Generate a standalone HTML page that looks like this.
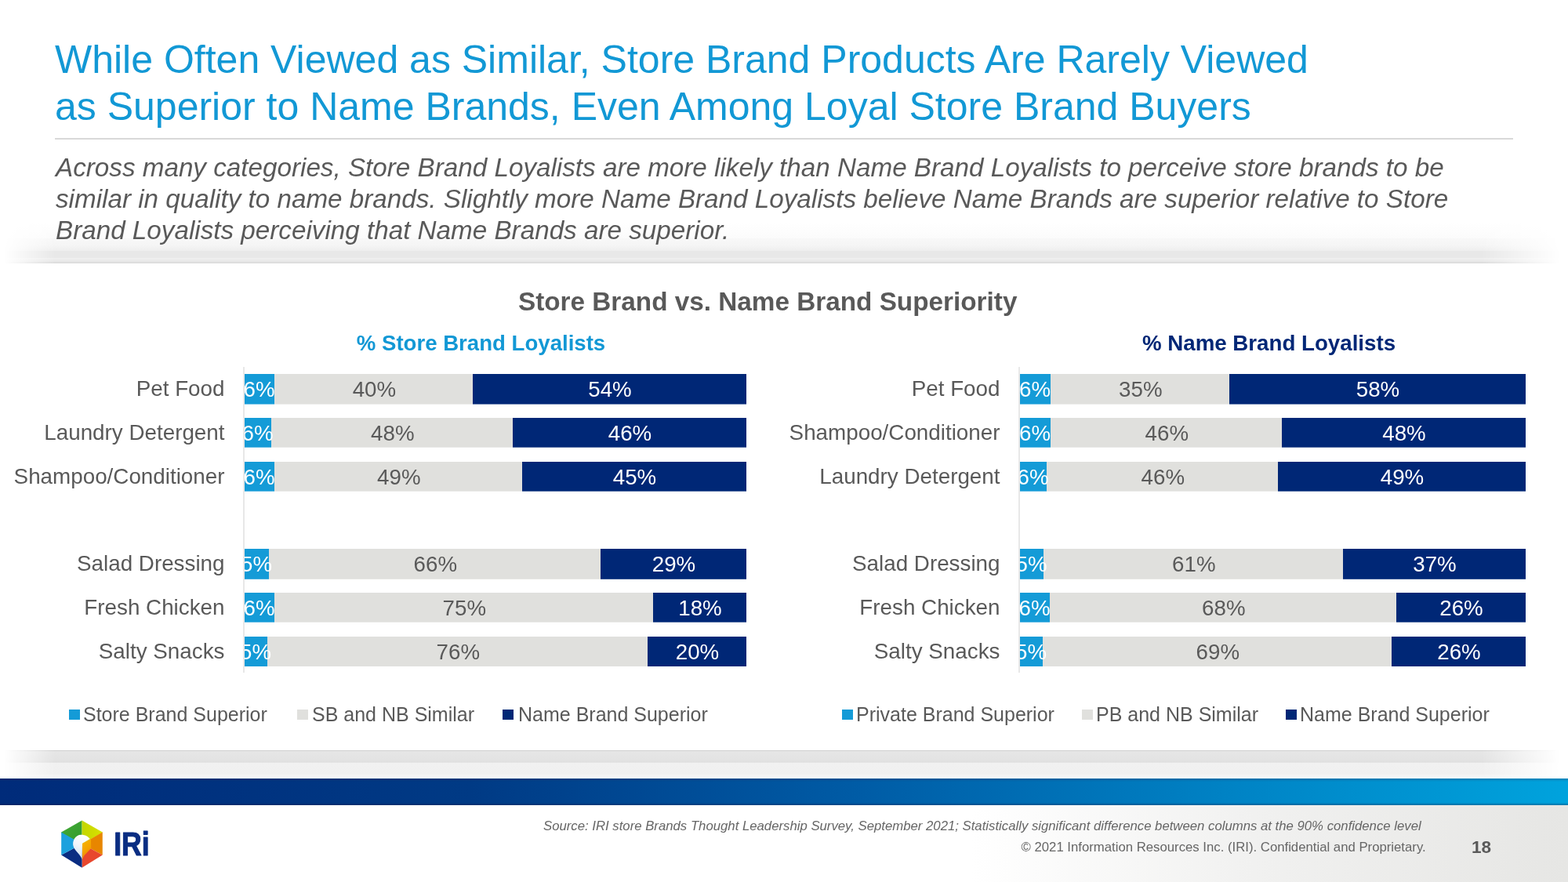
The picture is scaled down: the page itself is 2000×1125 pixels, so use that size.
<!DOCTYPE html>
<html lang="en">
<head>
<meta charset="utf-8">
<title>Store Brand vs. Name Brand Superiority</title>
<style>
html,body{margin:0;padding:0;background:#fff;}
body{width:2000px;height:1125px;position:relative;overflow:hidden;font-family:"Liberation Sans",Arial,Helvetica,sans-serif;color:#595959;}
.t{position:absolute;white-space:nowrap;margin:0;padding:0;}
.b{font-weight:bold;}
.i{font-style:italic;}
.abs{position:absolute;}
.seg{position:absolute;top:0;height:100%;}
.bar{position:absolute;height:39px;overflow:hidden;}
.lab{position:absolute;top:1px;height:38px;line-height:38px;font-size:27.7px;text-align:center;white-space:nowrap;}
.w{color:#fff;}
</style>
</head>
<body>
<div class="abs" style="left:0;top:1027px;width:2000px;height:98px;background:linear-gradient(90deg,#ffffff 0%,#ffffff 62%,#f1f1f0 80%,#e6e6e4 100%);"></div>
<div class="abs" style="left:0;top:284px;width:2000px;height:52px;-webkit-mask-image:linear-gradient(90deg,transparent 0.25%,#000 3.5%,#000 94.5%,transparent 99.5%);mask-image:linear-gradient(90deg,transparent 0.25%,#000 3.5%,#000 94.5%,transparent 99.5%);">
<div class="abs" style="left:0;top:0;width:100%;height:20px;background:linear-gradient(180deg,#ffffff,#fbfbfb);"></div>
<div class="abs" style="left:0;top:20px;width:100%;height:16px;background:linear-gradient(180deg,#f8f8f8,#f5f5f5 55%,#eeeeee);"></div>
<div class="abs" style="left:0;top:36px;width:100%;height:9px;background:#e8e8e8;"></div>
<div class="abs" style="left:0;top:45px;width:100%;height:5px;background:linear-gradient(180deg,#f0f0f0,#ebebeb 50%,#e6e6e6);"></div>
<div class="abs" style="left:0;top:50px;width:100%;height:2px;background:#dedede;"></div>
</div>
<div class="abs" style="left:0;top:957px;width:2000px;height:36px;-webkit-mask-image:linear-gradient(90deg,transparent 0.25%,#000 3.5%,#000 94.5%,transparent 99.5%);mask-image:linear-gradient(90deg,transparent 0.25%,#000 3.5%,#000 94.5%,transparent 99.5%);">
<div class="abs" style="left:0;top:0;width:100%;height:1px;background:#cfcfcf;"></div>
<div class="abs" style="left:0;top:1px;width:100%;height:15px;background:linear-gradient(180deg,#e6e6e6,#e3e3e3 75%,#dfdfdf 92%,#e8e8e8);"></div>
<div class="abs" style="left:0;top:16px;width:100%;height:20px;background:linear-gradient(180deg,#f1f1f1,#f0f0f0 70%,#fbfbfb);"></div>
</div>
<div class="abs" style="left:0;top:993px;width:2000px;height:34px;background:linear-gradient(90deg,#002b7a 0%,#003a85 30%,#005ca6 55%,#0082c4 78%,#00a3dd 100%);"></div>
<div class="abs" style="left:0;top:993px;width:2000px;height:34px;background:linear-gradient(180deg,rgba(0,20,60,.25) 0,rgba(0,0,0,0) 12%,rgba(0,0,0,0) 90%,rgba(0,20,60,.35) 100%);"></div>
<div class="t " style="top:46.17px;font-size:50px;line-height:60px;left:70px;color:#1298d5;">While Often Viewed as Similar, Store Brand Products Are Rarely Viewed</div>
<div class="t " style="top:105.67px;font-size:50px;line-height:60px;left:70px;color:#1298d5;">as Superior to Name Brands, Even Among Loyal Store Brand Buyers</div>
<div class="abs" style="left:70px;top:176px;width:1860px;height:2px;background:#d9d9d9;"></div>
<div class="t i" style="top:194.09px;font-size:33.23px;line-height:40px;left:71px;">Across many categories, Store Brand Loyalists are more likely than Name Brand Loyalists to perceive store brands to be</div>
<div class="t i" style="top:234.09px;font-size:33.23px;line-height:40px;left:71px;">similar in quality to name brands. Slightly more Name Brand Loyalists believe Name Brands are superior relative to Store</div>
<div class="t i" style="top:274.09px;font-size:33.23px;line-height:40px;left:71px;">Brand Loyalists perceiving that Name Brands are superior.</div>
<div class="t b" style="top:364.96px;font-size:33.3px;line-height:40px;left:479.20000000000005px;width:1000px;text-align:center;">Store Brand vs. Name Brand Superiority</div>
<div class="t b" style="top:421.44px;font-size:27.6px;line-height:33px;left:113.5px;width:1000px;text-align:center;color:#1298d5;">% Store Brand Loyalists</div>
<div class="t b" style="top:421.40px;font-size:27.7px;line-height:33px;left:1118.5px;width:1000px;text-align:center;color:#002776;">% Name Brand Loyalists</div>
<div class="abs" style="left:310px;top:468px;width:2px;height:390px;background:#e8e8e8;"></div>
<svg class="abs" style="left:312px;top:470px;" width="640" height="390" viewBox="312 470 640 390"><rect x="312" y="477" width="38.10000000000002" height="38.6" fill="#149bd7"/><rect x="350.1" y="477" width="252.89999999999998" height="38.6" fill="#e0e0dd"/><rect x="603" y="477" width="349" height="38.6" fill="#002776"/><rect x="312" y="533" width="34" height="37.7" fill="#149bd7"/><rect x="346" y="533" width="308" height="37.7" fill="#e0e0dd"/><rect x="654" y="533" width="298" height="37.7" fill="#002776"/><rect x="312" y="589" width="38" height="37.7" fill="#149bd7"/><rect x="350" y="589" width="316" height="37.7" fill="#e0e0dd"/><rect x="666" y="589" width="286" height="37.7" fill="#002776"/><rect x="312" y="700" width="31" height="38.8" fill="#149bd7"/><rect x="343" y="700" width="423" height="38.8" fill="#e0e0dd"/><rect x="766" y="700" width="186" height="38.8" fill="#002776"/><rect x="312" y="756" width="38" height="37.7" fill="#149bd7"/><rect x="350" y="756" width="483" height="37.7" fill="#e0e0dd"/><rect x="833" y="756" width="119" height="37.7" fill="#002776"/><rect x="312" y="812" width="29" height="38.0" fill="#149bd7"/><rect x="341" y="812" width="485" height="38.0" fill="#e0e0dd"/><rect x="826" y="812" width="126" height="38.0" fill="#002776"/></svg>
<div class="t " style="top:478.87px;font-size:27.8px;line-height:33px;right:1713.5px;">Pet Food</div>
<div class="bar" style="left:312px;top:477px;width:640px;"><div class="lab w" style="left:-31.4px;width:100px;">6%</div><div class="lab" style="left:115.4px;width:100px;">40%</div><div class="lab w" style="left:416.0px;width:100px;">54%</div></div>
<div class="t " style="top:534.87px;font-size:27.8px;line-height:33px;right:1713.5px;">Laundry Detergent</div>
<div class="bar" style="left:312px;top:533px;width:640px;"><div class="lab w" style="left:-33.5px;width:100px;">6%</div><div class="lab" style="left:138.8px;width:100px;">48%</div><div class="lab w" style="left:441.5px;width:100px;">46%</div></div>
<div class="t " style="top:590.87px;font-size:27.8px;line-height:33px;right:1713.5px;">Shampoo/Conditioner</div>
<div class="bar" style="left:312px;top:589px;width:640px;"><div class="lab w" style="left:-31.5px;width:100px;">6%</div><div class="lab" style="left:146.8px;width:100px;">49%</div><div class="lab w" style="left:447.5px;width:100px;">45%</div></div>
<div class="t " style="top:701.87px;font-size:27.8px;line-height:33px;right:1713.5px;">Salad Dressing</div>
<div class="bar" style="left:312px;top:700px;width:640px;"><div class="lab w" style="left:-35.0px;width:100px;">5%</div><div class="lab" style="left:193.3px;width:100px;">66%</div><div class="lab w" style="left:497.5px;width:100px;">29%</div></div>
<div class="t " style="top:757.87px;font-size:27.8px;line-height:33px;right:1713.5px;">Fresh Chicken</div>
<div class="bar" style="left:312px;top:756px;width:640px;"><div class="lab w" style="left:-31.5px;width:100px;">6%</div><div class="lab" style="left:230.3px;width:100px;">75%</div><div class="lab w" style="left:531.0px;width:100px;">18%</div></div>
<div class="t " style="top:813.87px;font-size:27.8px;line-height:33px;right:1713.5px;">Salty Snacks</div>
<div class="bar" style="left:312px;top:812px;width:640px;"><div class="lab w" style="left:-36.0px;width:100px;">5%</div><div class="lab" style="left:222.3px;width:100px;">76%</div><div class="lab w" style="left:527.5px;width:100px;">20%</div></div>
<div class="abs" style="left:1298.5px;top:468px;width:2px;height:390px;background:#e8e8e8;"></div>
<svg class="abs" style="left:1301px;top:470px;" width="645" height="390" viewBox="1301 470 645 390"><rect x="1301" y="477" width="39" height="38.6" fill="#149bd7"/><rect x="1340" y="477" width="228" height="38.6" fill="#e0e0dd"/><rect x="1568" y="477" width="378" height="38.6" fill="#002776"/><rect x="1301" y="533" width="39" height="37.7" fill="#149bd7"/><rect x="1340" y="533" width="295" height="37.7" fill="#e0e0dd"/><rect x="1635" y="533" width="311" height="37.7" fill="#002776"/><rect x="1301" y="589" width="34" height="37.7" fill="#149bd7"/><rect x="1335" y="589" width="295" height="37.7" fill="#e0e0dd"/><rect x="1630" y="589" width="316" height="37.7" fill="#002776"/><rect x="1301" y="700" width="30" height="38.8" fill="#149bd7"/><rect x="1331" y="700" width="382" height="38.8" fill="#e0e0dd"/><rect x="1713" y="700" width="233" height="38.8" fill="#002776"/><rect x="1301" y="756" width="38" height="37.7" fill="#149bd7"/><rect x="1339" y="756" width="442" height="37.7" fill="#e0e0dd"/><rect x="1781" y="756" width="165" height="37.7" fill="#002776"/><rect x="1301" y="812" width="29" height="38.0" fill="#149bd7"/><rect x="1330" y="812" width="445" height="38.0" fill="#e0e0dd"/><rect x="1775" y="812" width="171" height="38.0" fill="#002776"/></svg>
<div class="t " style="top:478.87px;font-size:27.8px;line-height:33px;right:724.5px;">Pet Food</div>
<div class="bar" style="left:1301px;top:477px;width:645px;"><div class="lab w" style="left:-31.0px;width:100px;">6%</div><div class="lab" style="left:103.8px;width:100px;">35%</div><div class="lab w" style="left:406.5px;width:100px;">58%</div></div>
<div class="t " style="top:534.87px;font-size:27.8px;line-height:33px;right:724.5px;">Shampoo/Conditioner</div>
<div class="bar" style="left:1301px;top:533px;width:645px;"><div class="lab w" style="left:-31.0px;width:100px;">6%</div><div class="lab" style="left:137.3px;width:100px;">46%</div><div class="lab w" style="left:440.0px;width:100px;">48%</div></div>
<div class="t " style="top:590.87px;font-size:27.8px;line-height:33px;right:724.5px;">Laundry Detergent</div>
<div class="bar" style="left:1301px;top:589px;width:645px;"><div class="lab w" style="left:-33.5px;width:100px;">6%</div><div class="lab" style="left:132.3px;width:100px;">46%</div><div class="lab w" style="left:437.5px;width:100px;">49%</div></div>
<div class="t " style="top:701.87px;font-size:27.8px;line-height:33px;right:724.5px;">Salad Dressing</div>
<div class="bar" style="left:1301px;top:700px;width:645px;"><div class="lab w" style="left:-35.5px;width:100px;">5%</div><div class="lab" style="left:171.8px;width:100px;">61%</div><div class="lab w" style="left:479.0px;width:100px;">37%</div></div>
<div class="t " style="top:757.87px;font-size:27.8px;line-height:33px;right:724.5px;">Fresh Chicken</div>
<div class="bar" style="left:1301px;top:756px;width:645px;"><div class="lab w" style="left:-31.5px;width:100px;">6%</div><div class="lab" style="left:209.8px;width:100px;">68%</div><div class="lab w" style="left:513.0px;width:100px;">26%</div></div>
<div class="t " style="top:813.87px;font-size:27.8px;line-height:33px;right:724.5px;">Salty Snacks</div>
<div class="bar" style="left:1301px;top:812px;width:645px;"><div class="lab w" style="left:-36.0px;width:100px;">5%</div><div class="lab" style="left:202.3px;width:100px;">69%</div><div class="lab w" style="left:510.0px;width:100px;">26%</div></div>
<div class="abs" style="left:88px;top:905px;width:14px;height:13px;background:#149bd7;"></div><div class="t " style="top:895.84px;font-size:25px;line-height:30px;left:106px;">Store Brand Superior</div>
<div class="abs" style="left:379px;top:905px;width:14px;height:13px;background:#e0e0dd;"></div><div class="t " style="top:895.84px;font-size:25px;line-height:30px;left:398px;">SB and NB Similar</div>
<div class="abs" style="left:641px;top:905px;width:14px;height:13px;background:#002776;"></div><div class="t " style="top:895.84px;font-size:25px;line-height:30px;left:661px;">Name Brand Superior</div>
<div class="abs" style="left:1074px;top:905px;width:14px;height:13px;background:#149bd7;"></div><div class="t " style="top:895.84px;font-size:25px;line-height:30px;left:1092px;">Private Brand Superior</div>
<div class="abs" style="left:1380px;top:905px;width:14px;height:13px;background:#e0e0dd;"></div><div class="t " style="top:895.84px;font-size:25px;line-height:30px;left:1398px;">PB and NB Similar</div>
<div class="abs" style="left:1640px;top:905px;width:14px;height:13px;background:#002776;"></div><div class="t " style="top:895.84px;font-size:25px;line-height:30px;left:1658px;">Name Brand Superior</div>
<div class="t i" style="top:1044.20px;font-size:16.74px;line-height:20px;left:693px;color:#666;">Source: IRI store Brands Thought Leadership Survey, September 2021; Statistically significant difference between columns at the 90% confidence level</div>
<div class="t " style="top:1071.20px;font-size:16.74px;line-height:20px;left:1302.5px;color:#666;">© 2021 Information Resources Inc. (IRI). Confidential and Proprietary.</div>
<div class="t b" style="top:1067.20px;font-size:22.5px;line-height:27px;left:1877px;">18</div>
<svg class="abs" style="left:70px;top:1040px;" width="130" height="75" viewBox="70 1040 130 75">
<defs>
<linearGradient id="lgY" x1="0" y1="0" x2="1" y2="0"><stop offset="0" stop-color="#c3d600"/><stop offset="1" stop-color="#d9e100"/></linearGradient>
<linearGradient id="lgG" x1="0" y1="0" x2="1" y2="1"><stop offset="0" stop-color="#45aa38"/><stop offset="1" stop-color="#2f9a2c"/></linearGradient>
<linearGradient id="lgF" x1="0" y1="0" x2="0.3" y2="1"><stop offset="0" stop-color="#f8b700"/><stop offset="0.6" stop-color="#f3a200"/><stop offset="1" stop-color="#ee7d10"/></linearGradient>
<linearGradient id="lgW" x1="0.6" y1="0" x2="0.3" y2="1"><stop offset="0" stop-color="#ffffff"/><stop offset="0.45" stop-color="#f1f6fb"/><stop offset="1" stop-color="#cfe2f2"/></linearGradient>
</defs>
<g transform="translate(70,1040) scale(0.06398)">
<polygon points="540,100 128,335 128,350 540,572" fill="url(#lgG)"/>
<polygon points="540,100 950,335 950,345 540,572" fill="url(#lgY)"/>
<polygon points="950,335 950,790 540,572" fill="#e88600"/>
<polygon points="950,790 540,1045 540,572" fill="#e8472d"/>
<polygon points="540,1045 128,790 540,572" fill="#0a2d82"/>
<polygon points="128,790 128,335 540,572" fill="#1ba1de"/>
<polygon points="545,562 718,478 722,655 585,800 545,880" fill="url(#lgF)"/>
<path d="M540 880 C525 790 405 720 372 625 C335 515 405 385 525 385 C605 385 665 420 700 468 L548 558 Z" fill="url(#lgW)"/>
</g>
<text x="145.2" y="1091.3" font-family="Liberation Sans, Arial, sans-serif" font-weight="bold" font-size="42" fill="#0a2d82" stroke="#0a2d82" stroke-width="1.1" stroke-linejoin="round" textLength="45.6" lengthAdjust="spacingAndGlyphs">IRi</text>
</svg>
</body>
</html>
